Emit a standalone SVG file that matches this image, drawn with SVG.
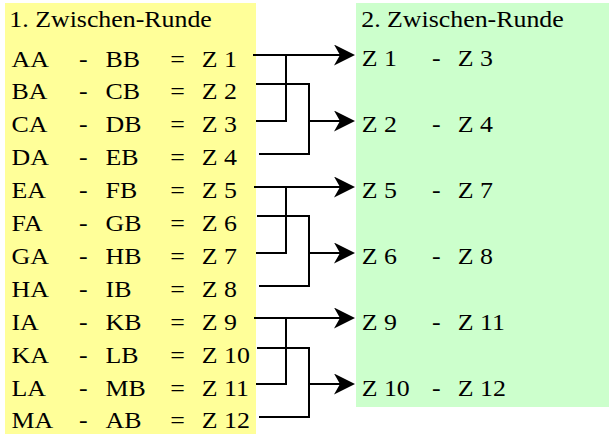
<svg xmlns="http://www.w3.org/2000/svg" width="610" height="434" viewBox="0 0 610 434">
  <style>
    .wire { fill: none; stroke: #000; stroke-width: 2; }
    .arrow { marker-end: url(#head); }
  </style>
  <defs>
    <marker id="head" viewBox="0 0 21 21" refX="11" refY="10.5" markerWidth="21" markerHeight="21" markerUnits="userSpaceOnUse" orient="auto">
      <path d="M0,0 L21,10.5 L0,21 L6,10.5 Z" fill="#000"/>
    </marker>
  </defs>

  <!-- round panels -->
  <rect id="panel-round1" x="5" y="3" width="251" height="431" fill="#FFFF99"/>
  <rect id="panel-round2" x="356" y="3" width="253" height="404" fill="#CCFFCC"/>

  <g font-family="'Liberation Serif', 'Times New Roman', Times, serif" font-size="22.5" fill="#000">
    <!-- first round: title and pairings -->
    <g id="title-round1" transform="translate(0,27) scale(1.15,1)"><text x="8.1">1. Zwischen-Runde</text></g>
    <g id="m1" transform="translate(0,66.5) scale(1.15,1)"><text x="10">AA</text><text x="68.7">-</text><text x="91.8">BB</text><text x="148">=</text><text x="175.4">Z 1</text></g>
    <g id="m2" transform="translate(0,99.4) scale(1.15,1)"><text x="10">BA</text><text x="68.7">-</text><text x="91.8">CB</text><text x="148">=</text><text x="175.4">Z 2</text></g>
    <g id="m3" transform="translate(0,132.3) scale(1.15,1)"><text x="10">CA</text><text x="68.7">-</text><text x="91.8">DB</text><text x="148">=</text><text x="175.4">Z 3</text></g>
    <g id="m4" transform="translate(0,165.2) scale(1.15,1)"><text x="10">DA</text><text x="68.7">-</text><text x="91.8">EB</text><text x="148">=</text><text x="175.4">Z 4</text></g>
    <g id="m5" transform="translate(0,198.1) scale(1.15,1)"><text x="10">EA</text><text x="68.7">-</text><text x="91.8">FB</text><text x="148">=</text><text x="175.4">Z 5</text></g>
    <g id="m6" transform="translate(0,231) scale(1.15,1)"><text x="10">FA</text><text x="68.7">-</text><text x="91.8">GB</text><text x="148">=</text><text x="175.4">Z 6</text></g>
    <g id="m7" transform="translate(0,263.9) scale(1.15,1)"><text x="10">GA</text><text x="68.7">-</text><text x="91.8">HB</text><text x="148">=</text><text x="175.4">Z 7</text></g>
    <g id="m8" transform="translate(0,296.8) scale(1.15,1)"><text x="10">HA</text><text x="68.7">-</text><text x="91.8">IB</text><text x="148">=</text><text x="175.4">Z 8</text></g>
    <g id="m9" transform="translate(0,329.7) scale(1.15,1)"><text x="10">IA</text><text x="68.7">-</text><text x="91.8">KB</text><text x="148">=</text><text x="175.4">Z 9</text></g>
    <g id="m10" transform="translate(0,362.6) scale(1.15,1)"><text x="10">KA</text><text x="68.7">-</text><text x="91.8">LB</text><text x="148">=</text><text x="175.4">Z 10</text></g>
    <g id="m11" transform="translate(0,395.5) scale(1.15,1)"><text x="10">LA</text><text x="68.7">-</text><text x="91.8">MB</text><text x="148">=</text><text x="175.4">Z 11</text></g>
    <g id="m12" transform="translate(0,428.4) scale(1.15,1)"><text x="10">MA</text><text x="68.7">-</text><text x="91.8">AB</text><text x="148">=</text><text x="175.4">Z 12</text></g>

    <!-- second round: title and pairings -->
    <g id="title-round2" transform="translate(0,27) scale(1.15,1)"><text x="314.1">2. Zwischen-Runde</text></g>
    <g id="r1" transform="translate(0,66) scale(1.15,1)"><text x="314.5">Z 1</text><text x="375.7">-</text><text x="398">Z 3</text></g>
    <g id="r2" transform="translate(0,132) scale(1.15,1)"><text x="314.5">Z 2</text><text x="375.7">-</text><text x="398">Z 4</text></g>
    <g id="r3" transform="translate(0,198) scale(1.15,1)"><text x="314.5">Z 5</text><text x="375.7">-</text><text x="398">Z 7</text></g>
    <g id="r4" transform="translate(0,264) scale(1.15,1)"><text x="314.5">Z 6</text><text x="375.7">-</text><text x="398">Z 8</text></g>
    <g id="r5" transform="translate(0,330) scale(1.15,1)"><text x="314.5">Z 9</text><text x="375.7">-</text><text x="398">Z 11</text></g>
    <g id="r6" transform="translate(0,396) scale(1.15,1)"><text x="314.5">Z 10</text><text x="375.7">-</text><text x="398">Z 12</text></g>
  </g>

  <!-- bracket connectors: winners of four matches feed two pairings -->
  <g id="connectors">
    <path class="wire arrow" d="M253,55 H345"/>
    <path class="wire" d="M256,121 H286 V55"/>
    <path class="wire" d="M256,84 H309 V154 H259"/>
    <path class="wire arrow" d="M309,121 H345"/>

    <path class="wire arrow" d="M254,187 H345"/>
    <path class="wire" d="M256,253 H286 V187"/>
    <path class="wire" d="M257,216 H309 V286 H259"/>
    <path class="wire arrow" d="M309,253 H345"/>

    <path class="wire arrow" d="M254,318 H345"/>
    <path class="wire" d="M256,384 H286 V318"/>
    <path class="wire" d="M257,348 H309 V417 H259"/>
    <path class="wire arrow" d="M309,384 H345"/>
  </g>
</svg>
